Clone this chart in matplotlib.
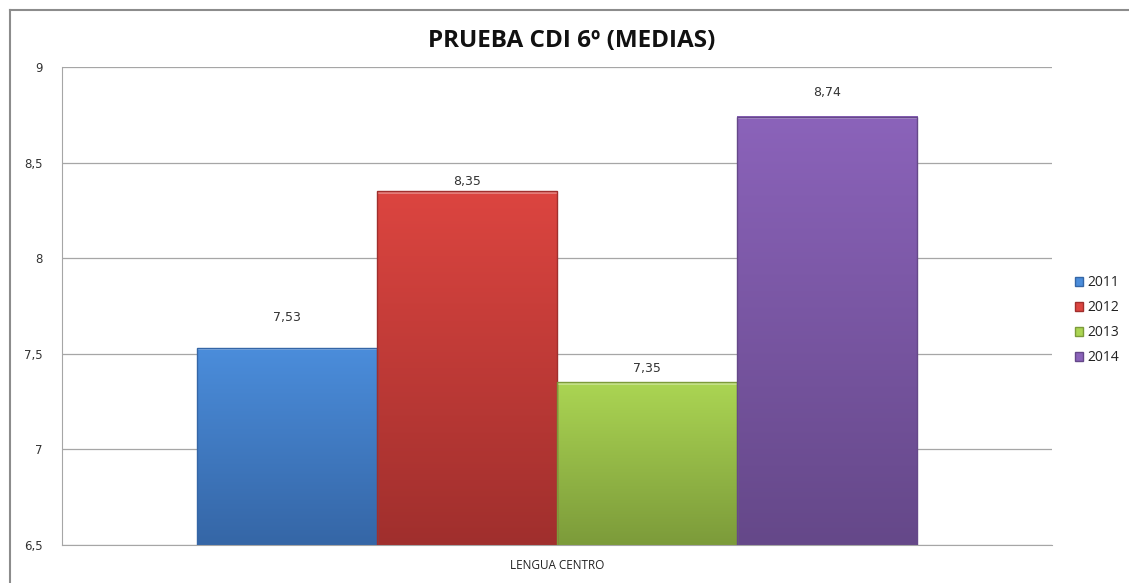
import numpy as np
import matplotlib
matplotlib.use("Agg")
import matplotlib.pyplot as plt
from matplotlib.colors import LinearSegmentedColormap
from matplotlib.lines import Line2D

# data
category = "LENGUA CENTRO"
years = ["2011", "2012", "2013", "2014"]
means = [7.53, 8.35, 7.35, 8.74]
value_labels = ["7,53", "8,35", "7,35", "8,74"]
y_ticks = [6.5, 7, 7.5, 8, 8.5, 9]
y_tick_labels = ["6,5", "7", "7,5", "8", "8,5", "9"]

# styles: (top colour, bottom colour)
bar_colors = [("#4b8ddb", "#3566a6"), ("#dc4540", "#a02f2d"),
              ("#abd553", "#7c9b3a"), ("#8b63ba", "#654889")]
label_offsets_px = [31, 10, 14, 24]

fig = plt.figure(figsize=(11.29, 5.83), dpi=100)
ax = fig.add_axes([62 / 1129, 1 - 545 / 583, 990 / 1129, 478 / 583])

ymin, ymax = 6.5, 9
width = 0.182
x0 = -2 * width
for i, (yr, val) in enumerate(zip(years, means)):
    left = x0 + i * width
    top_c, bot_c = bar_colors[i]
    cmap = LinearSegmentedColormap.from_list("g%d" % i, [bot_c, top_c])
    grad = np.linspace(0, 1, 256).reshape(-1, 1)
    ax.imshow(grad, cmap=cmap, aspect="auto", origin="lower",
              extent=[left, left + width, ymin, val], zorder=2)
    # bevel: lighter top strip, darker outline
    ax.add_patch(plt.Rectangle((left, val - 0.012), width, 0.012,
                               color="white", alpha=0.3, lw=0, zorder=3))
    ax.add_patch(plt.Rectangle((left, ymin), width, val - ymin,
                               fill=False, ec=bot_c, lw=1.0, zorder=3))
    ax.annotate(value_labels[i], (left + width / 2, val),
                xytext=(0, label_offsets_px[i] * 0.72), textcoords="offset points",
                ha="center", va="center", fontsize=9, color="#333333",
                family="DejaVu Sans")

ax.set_xlim(-0.5, 0.5)
ax.set_ylim(ymin, ymax)
ax.set_yticks(y_ticks)
ax.set_yticklabels(y_tick_labels, fontsize=8.5, color="#333333")
ax.set_xticks([0])
ax.set_xticklabels([category], fontsize=8.5, color="#222222", family="Open Sans")
ax.tick_params(axis="y", length=0, pad=14)
ax.tick_params(axis="x", length=0, pad=10)
ax.grid(axis="y", color="#a6a6a6", lw=0.9)
ax.set_axisbelow(True)
for s in ["top", "right"]:
    ax.spines[s].set_visible(False)
ax.spines["left"].set_color("#a6a6a6")
ax.spines["bottom"].set_color("#a6a6a6")

fig.text(572 / 1129, 1 - 41 / 583, "PRUEBA CDI 6º (MEDIAS)", ha="center", va="center",
         fontsize=17.5, fontweight="bold", family="Open Sans", color="#111111")

handles = [plt.Rectangle((0, 0), 1, 1, fc=c[0], ec=c[1]) for c in bar_colors]
leg = fig.legend(handles, years, loc="center left", bbox_to_anchor=(1062 / 1129, 1 - 320 / 583),
                 frameon=False, handlelength=0.6, handleheight=0.6,
                 handletextpad=0.3, labelspacing=0.72, prop={"family": "Open Sans", "size": 10})
for t in leg.get_texts():
    t.set_color("#222222")

# chart border
fig.add_artist(Line2D([10 / 1129, 1], [1 - 9.5 / 583, 1 - 9.5 / 583], color="#8c8c8c", lw=1.5))
fig.add_artist(Line2D([10 / 1129, 10 / 1129], [0, 1 - 9.5 / 583], color="#8c8c8c", lw=1.5))

fig.savefig("out.png", dpi=100)
